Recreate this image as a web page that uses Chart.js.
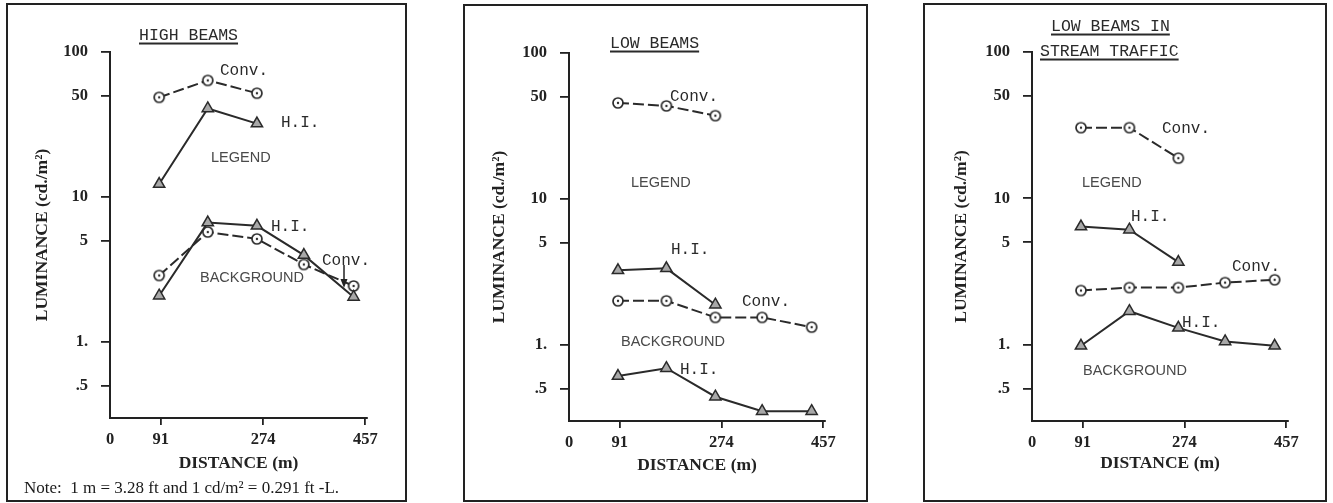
<!DOCTYPE html>
<html><head><meta charset="utf-8">
<script src="https://cdn.jsdelivr.net/npm/chart.js@4.4.1/dist/chart.umd.min.js"></script>
<style>
html,body{margin:0;padding:0;background:#fff;}
body{width:1333px;height:503px;position:relative;overflow:hidden;}
.box{position:absolute;border:2px solid #222;box-sizing:border-box;}
.cv{position:absolute;}
.t{position:absolute;white-space:pre;transform:translateY(-50%);line-height:1.15;color:#2a2a2a;z-index:5;}
.mono{font-family:"Liberation Mono","DejaVu Sans Mono",monospace;font-size:16px;}
.ttl{font-family:"Liberation Mono","DejaVu Sans Mono",monospace;font-size:16.5px;text-decoration:underline;text-decoration-thickness:2px;text-underline-offset:3px;}
.sans{font-family:"Liberation Sans",Arial,sans-serif;font-size:14.5px;color:#4a4a4a;}
.note{font-family:"Liberation Serif",serif;font-size:17px;color:#1a1a1a;}
svg{position:absolute;z-index:5;}
</style></head><body>
<div class="box" style="left:6px;top:3px;width:401px;height:499px;"></div>
<div class="box" style="left:463px;top:4px;width:405px;height:498px;"></div>
<div class="box" style="left:923px;top:3px;width:404px;height:499px;"></div>
<div class="cv" style="left:8px;top:5px;width:397px;height:495px;"><canvas id="c1"></canvas></div>
<div class="cv" style="left:465px;top:6px;width:401px;height:494px;"><canvas id="c2"></canvas></div>
<div class="cv" style="left:925px;top:5px;width:400px;height:495px;"><canvas id="c3"></canvas></div>
<svg style="left:338px;top:264px;" width="12" height="26" viewBox="0 0 12 26">
  <line x1="6" y1="1" x2="6" y2="18" stroke="#222" stroke-width="1.5"/>
  <polygon points="2.5,15 9.5,15 6,24" fill="#222"/>
</svg>
<script>
// ---- data ----
const distances = [88, 175, 263, 347, 436];
const xTickValues = [0, 91, 274, 457];
const xTickLabels = ['0', '91', '274', '457'];
const yTickValues = [0.5, 1, 5, 10, 50, 100];
const yTickLabels = ['.5', '1.', '5', '10', '50', '100'];

const highLegendConv = [48.7, 63.7, 52];
const highLegendHI = [12.3, 40.8, 32.1];
const highBackgroundHI = [2.09, 6.67, 6.34, 3.98, 2.05];
const highBackgroundConv = [2.88, 5.74, 5.15, 3.43, 2.44];

const lowLegendConv = [45.5, 43.4, 37.2];
const lowLegendHI = [3.24, 3.34, 1.88];
const lowBackgroundConv = [2.0, 2.0, 1.54, 1.54, 1.32];
const lowBackgroundHI = [0.61, 0.69, 0.44, 0.35, 0.35];

const streamLegendConv = [30.4, 30.4, 18.8];
const streamLegendHI = [6.4, 6.1, 3.66];
const streamBackgroundConv = [2.34, 2.45, 2.45, 2.65, 2.77];
const streamBackgroundHI = [0.98, 1.69, 1.30, 1.05, 0.98];

// ---- text annotations ----
const labels = [
  ['ttl', 'HIGH BEAMS', 139, 36],
  ['mono', 'Conv.', 220, 71],
  ['mono', 'H.I.', 281, 123],
  ['sans', 'LEGEND', 211, 157],
  ['mono', 'H.I.', 271, 227],
  ['mono', 'Conv.', 322, 261],
  ['sans', 'BACKGROUND', 200, 277],
  ['note', 'Note:  1 m = 3.28 ft and 1 cd/m\u00B2 = 0.291 ft -L.', 24, 488],
  ['ttl', 'LOW BEAMS', 610, 44],
  ['mono', 'Conv.', 670, 97],
  ['sans', 'LEGEND', 631, 182],
  ['mono', 'H.I.', 671, 250],
  ['mono', 'Conv.', 742, 302],
  ['sans', 'BACKGROUND', 621, 341],
  ['mono', 'H.I.', 680, 370],
  ['ttl', 'LOW BEAMS IN', 1051, 27],
  ['ttl', 'STREAM TRAFFIC', 1040, 52],
  ['mono', 'Conv.', 1162, 129],
  ['sans', 'LEGEND', 1082, 182],
  ['mono', 'H.I.', 1131, 217],
  ['mono', 'Conv.', 1232, 267],
  ['mono', 'H.I.', 1182, 323],
  ['sans', 'BACKGROUND', 1083, 370]
];
labels.forEach(([cls, txt, x, y]) => {
  const d = document.createElement('div');
  d.className = 't ' + cls;
  d.textContent = txt;
  d.style.left = x + 'px';
  d.style.top = y + 'px';
  document.body.appendChild(d);
});

Chart.defaults.font.family = '"Liberation Serif", serif';
Chart.defaults.color = '#222';

function circleDot() {
  const c = document.createElement('canvas');
  c.width = 14; c.height = 14;
  const g = c.getContext('2d');
  g.beginPath(); g.arc(7, 7, 5, 0, Math.PI * 2);
  g.fillStyle = '#fff'; g.fill();
  g.lineWidth = 1.7; g.strokeStyle = '#2a2a2a'; g.stroke();
  g.beginPath(); g.arc(7, 7, 1.2, 0, Math.PI * 2);
  g.fillStyle = '#2a2a2a'; g.fill();
  return c;
}
const dotImg = circleDot();

function series(label, values, kind) {
  const conv = kind === 'conv';
  return {
    label,
    data: values.map((v, i) => ({ x: distances[i], y: v })),
    showLine: true,
    borderColor: '#2a2a2a',
    borderWidth: 2,
    borderDash: conv ? [11, 4] : [],
    pointStyle: conv ? dotImg : 'triangle',
    pointRadius: conv ? 6 : 6.5,
    pointBackgroundColor: conv ? '#fff' : '#a8a8a8',
    pointBorderColor: '#2a2a2a',
    pointBorderWidth: 1.5,
    clip: false,
    tension: 0
  };
}

const tickFont = { family: '"Liberation Serif", serif', size: 16.5, weight: 'bold' };
const titleFont = { family: '"Liberation Serif", serif', size: 17.5, weight: 'bold' };

function makeChart(id, datasets, g) {
  new Chart(document.getElementById(id), {
    type: 'scatter',
    data: { datasets },
    options: {
      responsive: true,
      maintainAspectRatio: false,
      animation: false,
      layout: { padding: { left: 0, top: 47, right: g.pr, bottom: 0 } },
      plugins: { legend: { display: false }, tooltip: { enabled: false } },
      scales: {
        x: {
          type: 'linear', min: 0, max: 460,
          afterBuildTicks: s => { s.ticks = xTickValues.map(v => ({ value: v })); },
          afterFit: s => { s.height = g.xh; },
          ticks: {
            callback: v => { const i = xTickValues.indexOf(v); return i < 0 ? '' : xTickLabels[i]; },
            font: tickFont, color: '#222', padding: 5, maxRotation: 0, autoSkip: false
          },
          grid: {
            display: true, drawOnChartArea: false, drawTicks: true, tickLength: 7, lineWidth: 1.8,
            color: c => (c.tick && c.tick.value === 0) ? 'rgba(0,0,0,0)' : '#222'
          },
          border: { display: true, color: '#222', width: 2 },
          title: { display: true, text: 'DISTANCE (m)', font: titleFont, color: '#222', padding: { top: 0, bottom: g.xpb } }
        },
        y: {
          type: 'logarithmic', min: 0.34, max: 100,
          afterBuildTicks: s => { s.ticks = yTickValues.map(v => ({ value: v })); },
          afterFit: s => { s.width = g.yw; },
          ticks: {
            callback: v => { const i = yTickValues.indexOf(v); return i < 0 ? '' : yTickLabels[i]; },
            font: tickFont, color: '#222', padding: 13, autoSkip: false
          },
          grid: { display: true, drawOnChartArea: false, drawTicks: true, tickLength: 9, lineWidth: 1.8, color: '#222' },
          border: { display: true, color: '#222', width: 2 },
          title: { display: true, text: 'LUMINANCE (cd./m\u00B2)', font: titleFont, color: '#222', padding: { top: g.ytp, bottom: 0 } }
        }
      }
    }
  });
}

makeChart('c1', [
  series('Legend Conv.', highLegendConv, 'conv'),
  series('Legend H.I.', highLegendHI, 'hi'),
  series('Background H.I.', highBackgroundHI, 'hi'),
  series('Background Conv.', highBackgroundConv, 'conv')
], { pr: 38, xh: 82, yw: 102, ytp: 24, xpb: 26 });

makeChart('c2', [
  series('Conv.', lowLegendConv, 'conv'),
  series('H.I.', lowLegendHI, 'hi'),
  series('Background Conv.', lowBackgroundConv, 'conv'),
  series('Background H.I.', lowBackgroundHI, 'hi')
], { pr: 41, xh: 79, yw: 104, ytp: 24, xpb: 24 });

makeChart('c3', [
  series('Legend Conv.', streamLegendConv, 'conv'),
  series('Legend H.I.', streamLegendHI, 'hi'),
  series('Background Conv.', streamBackgroundConv, 'conv'),
  series('Background H.I.', streamBackgroundHI, 'hi')
], { pr: 37, xh: 79, yw: 107, ytp: 26, xpb: 26 });
</script>
</body></html>
